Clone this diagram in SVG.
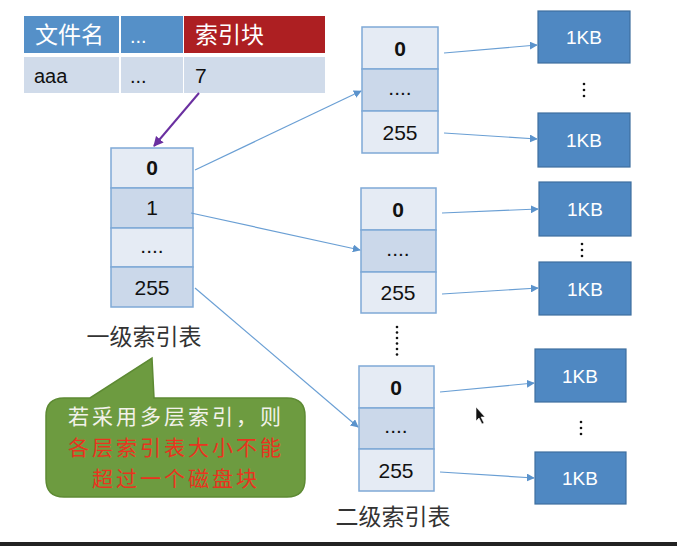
<svg xmlns="http://www.w3.org/2000/svg" width="677" height="546" viewBox="0 0 677 546">
<defs>
<style>
.t{font-family:"Liberation Sans","Noto Sans CJK SC",sans-serif;}
.c{font-family:"Noto Sans CJK SC","Liberation Sans",sans-serif;}
.lt{fill:#e5ebf4;stroke:#7fa9d6;stroke-width:1.5;}
.dk{fill:#cbd8ea;stroke:#7fa9d6;stroke-width:1.5;}
.blk{fill:#4f88c2;stroke:#3f6f9f;stroke-width:1.2;}
.num{font-size:21px;fill:#111;text-anchor:middle;}
.kb{font-size:19px;fill:#fff;text-anchor:middle;}
.con{stroke:#6a9fd4;stroke-width:1.2;fill:none;marker-end:url(#ah);}
.dot{fill:#111;}
.cl{font-size:21px;letter-spacing:3px;text-anchor:middle;}
</style>
<marker id="ah" viewBox="0 0 10 10" refX="9" refY="5" markerWidth="8" markerHeight="8" orient="auto" markerUnits="userSpaceOnUse"><path d="M0,0 L10,5 L0,10 z" fill="#5b93cc"/></marker>
<marker id="ap" viewBox="0 0 10 10" refX="9" refY="5" markerWidth="10" markerHeight="10" orient="auto" markerUnits="userSpaceOnUse"><path d="M0,0 L10,5 L0,10 z" fill="#6a2fa0"/></marker>
</defs>
<rect x="0" y="0" width="677" height="546" fill="#fff"/>
<rect x="0" y="542" width="677" height="4" fill="#222"/>

<g id="file-table">
<rect x="24" y="16" width="95" height="37" fill="#5590c8"/>
<rect x="121" y="16" width="62" height="37" fill="#5590c8"/>
<rect x="184" y="16" width="141" height="37" fill="#ad1f22"/>
<rect x="24" y="57" width="95" height="36" fill="#d0dbea"/>
<rect x="121" y="57" width="62" height="36" fill="#d0dbea"/>
<rect x="184" y="57" width="141" height="36" fill="#d0dbea"/>
<text class="c" x="35" y="43" font-size="23" fill="#fff">文件名</text>
<text class="t" x="130" y="43" font-size="20" fill="#fff">...</text>
<text class="c" x="195" y="43" font-size="23" fill="#fff">索引块</text>
<text class="t" x="34" y="83" font-size="20" fill="#111">aaa</text>
<text class="t" x="130" y="83" font-size="20" fill="#111">...</text>
<text class="t" x="195" y="83" font-size="21" fill="#111">7</text>
</g>

<g id="level1-table">
<rect class="lt" x="111" y="148" width="82" height="40"/>
<rect class="dk" x="111" y="188" width="82" height="40"/>
<rect class="lt" x="111" y="228" width="82" height="39"/>
<rect class="dk" x="111" y="267" width="82" height="40"/>
<text class="t num" x="152" y="175" font-weight="bold">0</text>
<text class="t num" x="152" y="215">1</text>
<text class="t num" x="152" y="253">....</text>
<text class="t num" x="152" y="295">255</text>
<text class="c" x="144" y="345" font-size="23" fill="#333" text-anchor="middle">一级索引表</text>
</g>

<g id="level2-table-a">
<rect class="lt" x="362" y="27" width="76" height="42"/>
<rect class="dk" x="362" y="69" width="76" height="42"/>
<rect class="lt" x="362" y="111" width="76" height="42"/>
<text class="t num" x="400" y="56" font-weight="bold">0</text>
<text class="t num" x="400" y="95">....</text>
<text class="t num" x="400" y="140">255</text>
</g>

<g id="level2-table-b">
<rect class="lt" x="361" y="188" width="75" height="42"/>
<rect class="dk" x="361" y="230" width="75" height="42"/>
<rect class="lt" x="361" y="272" width="75" height="41"/>
<text class="t num" x="398" y="217" font-weight="bold">0</text>
<text class="t num" x="398" y="256">....</text>
<text class="t num" x="398" y="300">255</text>
</g>

<g id="level2-table-c">
<rect class="lt" x="359" y="366" width="75" height="42"/>
<rect class="dk" x="359" y="408" width="75" height="41"/>
<rect class="lt" x="359" y="449" width="75" height="42"/>
<text class="t num" x="396" y="395" font-weight="bold">0</text>
<text class="t num" x="396" y="433">....</text>
<text class="t num" x="396" y="478">255</text>
<text class="c" x="393" y="525" font-size="23" fill="#333" text-anchor="middle">二级索引表</text>
</g>

<g id="vdots-tables">
<circle class="dot" cx="397" cy="327" r="1.3"/>
<circle class="dot" cx="397" cy="332.5" r="1.3"/>
<circle class="dot" cx="397" cy="338" r="1.3"/>
<circle class="dot" cx="397" cy="343.5" r="1.3"/>
<circle class="dot" cx="397" cy="349" r="1.3"/>
<circle class="dot" cx="397" cy="354.5" r="1.3"/>
</g>

<g id="blocks-a">
<rect class="blk" x="538" y="11" width="92" height="52"/>
<text class="t kb" x="584" y="44">1KB</text>
<rect class="blk" x="538" y="113" width="92" height="54"/>
<text class="t kb" x="584" y="147">1KB</text>
<circle class="dot" cx="584" cy="84" r="1.3"/>
<circle class="dot" cx="584" cy="90" r="1.3"/>
<circle class="dot" cx="584" cy="96" r="1.3"/>
</g>

<g id="blocks-b">
<rect class="blk" x="539" y="182" width="92" height="54"/>
<text class="t kb" x="585" y="216">1KB</text>
<rect class="blk" x="539" y="262" width="92" height="53"/>
<text class="t kb" x="585" y="296">1KB</text>
<circle class="dot" cx="582" cy="244" r="1.3"/>
<circle class="dot" cx="582" cy="250" r="1.3"/>
<circle class="dot" cx="582" cy="256" r="1.3"/>
</g>

<g id="blocks-c">
<rect class="blk" x="535" y="349" width="91" height="53"/>
<text class="t kb" x="580" y="383">1KB</text>
<rect class="blk" x="535" y="452" width="91" height="52"/>
<text class="t kb" x="580" y="485">1KB</text>
<circle class="dot" cx="581" cy="422" r="1.3"/>
<circle class="dot" cx="581" cy="428" r="1.3"/>
<circle class="dot" cx="581" cy="434" r="1.3"/>
</g>

<g id="connectors">
<line x1="199" y1="93" x2="154" y2="146" stroke="#6a2fa0" stroke-width="2" marker-end="url(#ap)"/>
<line class="con" x1="195" y1="170" x2="361" y2="91"/>
<line class="con" x1="191" y1="213" x2="360" y2="250"/>
<line class="con" x1="195" y1="288" x2="358" y2="427"/>
<line class="con" x1="444" y1="53" x2="537" y2="45"/>
<line class="con" x1="444" y1="133" x2="537" y2="139"/>
<line class="con" x1="442" y1="213" x2="538" y2="209"/>
<line class="con" x1="442" y1="294" x2="538" y2="288"/>
<line class="con" x1="440" y1="392" x2="534" y2="383"/>
<line class="con" x1="440" y1="472" x2="534" y2="478"/>
</g>

<g id="callout">
<path d="M64,398 L90,398 L152,358 L154,398 L287,398 Q305,398 305,416 L305,479 Q305,497 287,497 L64,497 Q46,497 46,479 L46,416 Q46,398 64,398 Z" fill="#6d9b40" stroke="#5d8a33" stroke-width="1.5"/>
<text class="c cl" x="176" y="424" fill="#f2f2ea">若采用多层索引，则</text>
<text class="c cl" x="176" y="455" fill="#e8341f">各层索引表大小不能</text>
<text class="c cl" x="176" y="486" fill="#e8341f">超过一个磁盘块</text>
</g>

<path d="M476,407 L476,421 L479,418 L482,424 L484,423 L481,417 L485,417 Z" fill="#111" stroke="#fff" stroke-width="0.6"/>
</svg>
